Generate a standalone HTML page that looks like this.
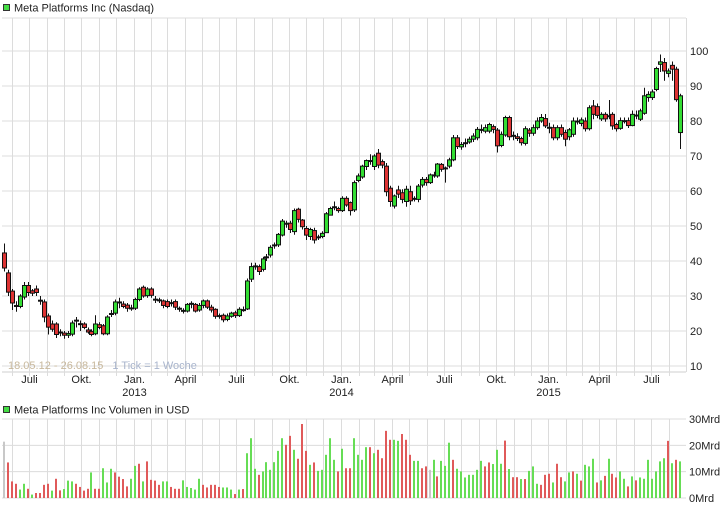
<!DOCTYPE html>
<html><head><meta charset="utf-8">
<style>
body{margin:0;background:#fff;}
svg{display:block;font-family:"Liberation Sans",Arial,sans-serif;}
</style></head>
<body>
<svg id="chart" width="726" height="508" viewBox="0 0 726 508" xmlns="http://www.w3.org/2000/svg">
<rect x="0" y="0" width="726" height="508" fill="#fff"/>
<rect x="3.5" y="4.5" width="6" height="6" fill="#44dd44" stroke="#333" stroke-width="1"/>
<text x="14" y="11.5" font-size="11" fill="#222">Meta Platforms Inc (Nasdaq)</text>
<rect x="3.5" y="406.5" width="6" height="6" fill="#44dd44" stroke="#333" stroke-width="1"/>
<text x="14" y="413.5" font-size="11" fill="#222">Meta Platforms Inc Volumen in USD</text>
<g id="grid"></g>
<g id="vol"></g>
<g id="candles"></g>
<g id="axes"></g>
<text x="8" y="369" font-size="11"><tspan fill="#c8b89c">18.05.12 - 26.08.15</tspan><tspan fill="#a8b4cc" dx="9">1 Tick = 1 Woche</tspan></text>
</svg>
<script>
const openP=[42.3,36.6,31.4,27.3,27,29.7,33,31.5,32,28.8,28.3,24.3,22,22,19.7,19.4,18.8,19.1,23.1,22.1,22,20.3,19.9,19.2,21.8,21.5,19.2,24.9,25.1,28.2,27.7,27.4,26.6,26.5,29,32.5,30.1,32,29.1,28.9,28.6,28.4,28.1,28.4,26.5,25.9,25.7,27.8,27.6,26,27.3,28.6,26.8,26.2,24.4,24.5,23.3,24.2,25.2,24.4,26.1,26.3,34.8,38.5,38.4,37.6,41.1,41.7,44.5,44.6,47.4,50.5,50.8,48.4,54.8,51.7,49.3,47,48.7,46.9,47,48.1,53.1,55.4,55,54.4,57.9,56.7,54.6,63,64,67,68.6,67,70.8,68.4,67.1,60.8,55.7,60.3,59.5,57,59.8,57.8,57.6,61.7,63.3,62.4,64.5,64.3,67.6,66.6,67.1,68.9,75.2,72.6,73.7,74,74.8,75.2,77.5,77.1,77.1,78.4,77.4,73,76,81,75.8,75.5,75,73.6,77.4,76.5,78.1,80,80.7,78.2,78.1,75.2,78.1,76.7,75.5,76.2,79.9,79.3,80,77.8,84.3,84.1,80.6,81.9,81.5,81.9,79,77.9,80,80.1,78.7,81.6,80.5,82.2,86.7,86.7,89,96.2,96.7,93.6,95.9,94.8,76.7];
const closeP=[38,31.1,28,27,30,33,31,30.8,31,28.6,24,21.1,20.5,19,19.5,18.8,19.3,22.3,23,22,21,19.7,19,22,21,19.2,24,25,28.3,28.3,27,26.5,26.5,29,32,30,32,30.2,29,28.8,27.3,27,28,26.8,26.4,25.8,27.6,27.9,25.7,27.3,28.6,26.8,26,24.2,24.3,23.2,24.3,25.1,24.4,26.2,26.1,34.3,38.4,38.6,37,40.6,41.2,43.9,44.6,47.6,51.4,50.8,49,54.4,51.9,49.8,47.4,49,46,46.8,47.9,53.5,55,55.5,54.4,57.9,56,54.4,62.4,64.3,67.1,68.7,68.7,70,67.4,67.4,59.8,57,58.6,59.1,57.6,60.5,57.2,57.9,61.4,63.3,62.4,64.6,64.6,67.7,66.2,66.5,68.9,75.2,72.7,73.3,73.8,74.8,75.7,77.6,77.6,78.1,79,77.6,72.9,76.2,81,75.5,75.9,75,73.8,77.8,76.5,78.1,80,81,78.6,78.1,75.2,78.1,76.2,74.8,77.5,80,80,80.3,77.8,83.8,81.9,81.6,81.9,80.6,81.4,78.6,77.8,80.1,80.1,78.7,81.9,81.7,82.9,87.2,87.6,88.3,95,96.9,94.3,94.3,94.8,86.1,87.2];
const highP=[45,37.5,32,28.5,30.5,34,34,32,33,30,29,25,23,22.5,20.5,20,20,23,24,23,22.5,21,20.5,24.5,22.5,22,24.5,26,29,29.5,28.5,28,27.5,29.5,32.5,33,32.5,32.5,30,29.5,29,29,29,29,27,26.5,28,28.5,28,28,29,29,27.5,26.5,25,25,25,25.5,25.8,26.8,27,35,39.5,39.5,39,41.2,42,44.5,45.3,48,52,51.5,51.5,55,55.2,52,50,49.5,49.5,47.5,48.5,54,55.5,57,55.5,58.5,58.5,57,63,65,67.5,69,70.5,70.5,72,69,68,61.5,59,61.5,60.5,61.5,61.5,58.5,62,64,64,65,65.5,68,68,67,69.5,76,76,74,75,75.5,76.5,78.3,79,79,79.5,79,78,77,81.5,81.5,77,76.5,75.5,78.5,78,79,81,82,82,79.5,79,78.8,79,77.5,78,81,81,81,81,84.5,86,85,82.5,82.5,86,82.5,79.5,81,81,81,83,83,83.5,89.5,88.5,89,95.5,99,98,95,97,95.5,87.8];
const lowP=[37,30,26,25.5,26.5,29,30,30,30,27.5,22.5,19,19.8,18,18.5,17.8,18,18.5,21,20,20.5,19.2,18.5,18.8,20.5,18.8,18.8,24,24.5,26.5,26.5,25.5,25.8,26,28.5,29.5,29.5,29.5,28,28,26.5,26.5,27,26,25.5,25,25.3,26.5,25.3,25.5,26.5,26.3,25.3,23.5,23.5,22.5,22.8,23.8,23.7,24,25.5,26,34,37.5,36,37,40,41,43.5,44,47,49.5,48,47.5,51,49,46,46,45,46,46.5,48,53,54.5,53.8,54,55.5,53,54,62.5,63.5,66,67.5,66,66.5,66.5,58.5,55.5,55,58,56.5,55.5,56,57,56.8,61,61.5,62,63.8,63.8,65.5,62.4,66.5,68.5,72,71.8,72.5,73.5,74,74.5,76.5,76.5,76.5,76.5,71,72.5,75.5,74.5,74.5,74.3,73,73,75.5,75.8,77.5,79.5,78,76.5,74.5,74.5,75.5,72.8,74.5,75.5,79,78.5,77,77.3,80.5,80.8,80,79.8,80.5,77.5,77,77.5,79.3,78,78.5,80.5,80,81.8,85.5,86,88.5,94,91.5,92.5,91.5,85.5,72];
const volume=[21.4,13.5,6.3,5.4,3.2,5.4,3.5,1.3,1.9,1.9,5,5.4,2.8,7.3,2.9,3.4,6.6,6.3,5.4,4.2,2.8,3.5,9.7,3.5,3.5,11.3,5.9,11.1,9.7,8.1,7.2,4.4,7.3,12.2,13,6.3,13.9,6.9,6.6,5,6.3,6.3,4.2,3.5,3.5,6.7,4.2,3.8,3.2,7.3,5,4,5,5,4.2,4,4,3.2,1.5,3.2,3.4,17,22.7,11.1,8.8,10.1,13.6,10.7,13.6,17.9,22.7,20.2,23.6,18.3,14.9,28.1,17.9,12.6,13.5,10.3,10.7,16.4,22.7,14.5,10.1,18.7,11.3,11.3,22.7,16.4,14.5,19.3,19.3,17,18.3,15.1,25.5,22.1,22.1,21.7,24.3,22.1,16.4,14.1,14.1,11.3,12,10.7,14.5,8.2,14.1,12.2,21,14.5,11.1,10.1,7.8,8.8,8.8,10.7,14.1,12,13.5,12.9,18.3,13,21.8,11,7.9,7.9,7.2,7.2,10.3,12,5.4,5,8.8,9.2,5.9,13,7.9,6.3,9.7,10.1,9.2,6.6,12.6,12,14.9,5.9,6.7,8.4,14.9,9.2,7.8,10.1,7.3,4.4,8.2,6.7,7.8,7.3,14.5,7.3,10.1,13.9,15.1,21.7,13.2,14.5,13.9];
const volumeDir=[
"n","r","r","r","g","g","r","g","r","r",
"r","r","g","r","r","g","g","g","r","r",
"r","r","g","r","r","g","g","g","r","r",
"r","r","g","g","r","g","r","r","r","r",
"g","g","r","r","r","g","g","g","g","g",
"r","r","r","r","r","g","g","g","r","g",
"r","g","g","g","r","g","g","g","g","g",
"g","r","r","g","r","r","r","g","r","g",
"g","g","g","g","r","g","r","r","g","g",
"g","g","r","g","r","r","r","r","g","g",
"r","r","r","g","g","r","r","n","g","r",
"g","g","g","r","g","g","g","g","g","g",
"g","r","r","g","g","g","r","g","r","r",
"g","r","g","g","g","r","r","r","g","r",
"r","g","g","r","g","r","g","g","g","r",
"g","r","g","r","r","g","g","r","g","r",
"g","g","g","g","g","g","g","r","g","r","g"];
const priceTicks=[10,20,30,40,50,60,70,80,90,100];
const volumeTicks=[0,10,20,30];
const volumeTickLabels=["0Mrd","10Mrd","20Mrd","30Mrd"];
const monthStarts=[2,6.29,10.71,15.14,19.43,23.86,28.14,32.57,37,41,45.43,49.71,54.14,58.43,62.86,67.29,71.57,76,80.29,84.71,89.14,93.14,97.57,101.86,106.29,110.57,115,119.43,123.71,128.14,132.43,136.86,141.29,145.29,149.71,154,158.43,162.71,167.14];
const monthLabels=["","Juli","","","Okt.","","","Jan.","","","April","","","Juli","","","Okt.","","","Jan.","","","April","","","Juli","","","Okt.","","","Jan.","","","April","","","Juli",""];
const yearLabels=["","","","","","","","2013","","","","","","","","","","","","2014","","","","","","","","","","","","2015","","","","","","",""];

const NS="http://www.w3.org/2000/svg";
const X0=4,K=3.977,PL=2,PR=686,PT=18,PB=372,VT=419,VB=498;
const xAt=i=>X0+i*K;
const yP=p=>51+(100-p)*3.5;
const yV=v=>VB-v*(VB-VT)/30;
function mk(tag,attrs,parent){const e=document.createElementNS(NS,tag);for(const k in attrs)e.setAttribute(k,attrs[k]);parent.appendChild(e);return e;}
const grid=document.getElementById('grid'),axes=document.getElementById('axes');
priceTicks.forEach(t=>{
  const l=mk('line',{x1:PL,x2:PR,y1:yP(t),y2:yP(t),stroke:'#dcdcdc','stroke-width':1},grid);
  
  
  const tx=mk('text',{x:690,y:yP(t)+4,'font-size':11,fill:'#222'},axes);
  tx.textContent=t;
  
  
});
const tl=mk('line',{x1:PL,x2:PR,y1:PT,y2:PT,stroke:'#dcdcdc'},grid);


const bl=mk('line',{x1:PL,x2:PR,y1:PB,y2:PB,stroke:'#cfcfcf'},grid);


volumeTicks.forEach((t,j)=>{
  const l=mk('line',{x1:PL,x2:PR,y1:yV(t),y2:yV(t),stroke:'#dcdcdc'},grid);
  
  
  const tx=mk('text',{x:689,y:yV(t)+4,'font-size':11,fill:'#222'},axes);
  tx.textContent=volumeTickLabels[j];
  
  
});
monthStarts.forEach((m,j)=>{
  const x=Math.round(xAt(m))+0.5;
  const l=mk('line',{x1:x,x2:x,y1:PT,y2:PB+4,stroke:'#dcdcdc'},grid);
  
  
  const l2=mk('line',{x1:x,x2:x,y1:VT,y2:VB,stroke:'#dcdcdc'},grid);
  
  
  if(monthLabels[j]){const tx=mk('text',{x:x,y:383,'font-size':11,fill:'#222','text-anchor':'middle'},axes);
    tx.textContent=monthLabels[j];
    
    }
  if(yearLabels[j]){const tx=mk('text',{x:x,y:396,'font-size':11,fill:'#222','text-anchor':'middle'},axes);
    tx.textContent=yearLabels[j];
    
    }
});
const rl=mk('line',{x1:PR+0.5,x2:PR+0.5,y1:PT,y2:PB,stroke:'#dcdcdc'},grid);


const volG=document.getElementById('vol');
volume.forEach((v,i)=>{
  const d=volumeDir[i]||'g';
  const c=d==='g'?'#66dd55':d==='r'?'#e05a5a':'#c8c8c8';
  const x=Math.round(xAt(i))-1;
  const r=mk('rect',{x:x,y:yV(v),width:2,height:VB-yV(v),fill:c},volG);
  
  
});
const cg=document.getElementById('candles');
openP.forEach((o,i)=>{
  const c=closeP[i],x=Math.round(xAt(i))+0.5;
  const w=mk('line',{x1:x,x2:x,y1:yP(highP[i]),y2:yP(lowP[i]),stroke:'#111','stroke-width':1},cg);
  
  
  const top=yP(Math.max(o,c)),bot=yP(Math.min(o,c));
  const h=Math.max(1,bot-top);
  const b=mk('rect',{x:x-2,y:top,width:4,height:h,fill:c>=o?'#33dd33':'#dd3333',stroke:'#111','stroke-width':1},cg);
  
  
});
</script>
</body></html>
